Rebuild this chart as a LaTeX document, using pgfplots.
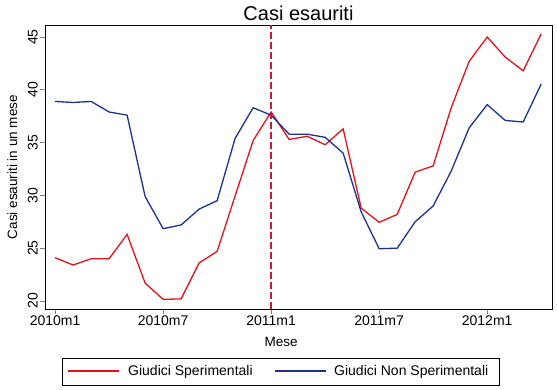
\documentclass[border=0pt]{standalone}
\usepackage{pgfplots}
\pgfplotsset{compat=1.18}
\usepackage{fontspec}
\setmainfont{Liberation Sans}
\definecolor{sred}{RGB}{225,20,30}
\definecolor{sblue}{RGB}{30,50,140}
\definecolor{cvline}{RGB}{195,30,55}
\begin{document}
\begin{tikzpicture}
\useasboundingbox (-45bp,-81bp) rectangle (512bp,309bp);
\begin{axis}[
  at={(0,0)}, anchor=south west,
  scale only axis, width=507bp, height=284bp,
  xmin=-0.56, xmax=27.6, ymin=19.24, ymax=46.14,
  xtick={0,6,12,18,24},
  xticklabels={2010m1,2010m7,2011m1,2011m7,2012m1},
  ytick={20,25,30,35,40,45},
  tick pos=left, tick align=outside,
  major tick length=5bp,
  tick style={line width=0.7bp},
  axis line style={line width=0.8bp},
  /pgf/number format/assume math mode=true,
  ticklabel style={font=\fontsize{14bp}{16bp}\selectfont},
  yticklabel style={rotate=90, anchor=south, inner sep=2bp},
  xticklabel style={inner sep=2bp},
  xlabel={Mese},
  ylabel={Casi esauriti in un mese},
  label style={font=\fontsize{13.5bp}{15bp}\selectfont},
  xlabel style={at={(axis description cs:0.4655,0)}, anchor=north, yshift=-25bp},
  ylabel style={yshift=5bp},
  title={Casi esauriti},
  title style={font=\fontsize{20bp}{22bp}\selectfont, yshift=-5bp},
  clip=false,
]
\addplot[color=sred, line width=1.3bp] table {
x y
0 24.1
1 23.4
2 24.0
3 24.0
4 26.3
5 21.7
6 20.15
7 20.2
8 23.6
9 24.7
10 29.95
11 35.2
12 37.9
13 35.3
14 35.6
15 34.8
16 36.3
17 28.8
18 27.45
19 28.2
20 32.2
21 32.8
22 38.3
23 42.7
24 45.0
25 43.1
26 41.8
27 45.3
};
\addplot[color=sblue, line width=1.3bp] table {
x y
0 38.9
1 38.8
2 38.9
3 37.9
4 37.6
5 29.9
6 26.85
7 27.2
8 28.7
9 29.5
10 35.4
11 38.3
12 37.6
13 35.8
14 35.8
15 35.5
16 34.0
17 28.45
18 24.95
19 25.0
20 27.5
21 29.0
22 32.3
23 36.4
24 38.6
25 37.1
26 36.95
27 40.55
};
\addplot[color=cvline, line width=1.9bp, dash pattern=on 6.5bp off 3.5bp, forget plot] table {
x y
12 19.24
12 46.14
};
\end{axis}
% legend
\draw[black, line width=0.7bp] (17bp,-76bp) rectangle (454bp,-49bp);
\draw[sred, line width=2.2bp] (23bp,-62bp) -- (74bp,-62bp);
\node[anchor=west, inner sep=0pt, font=\fontsize{14bp}{16bp}\selectfont] at (83bp,-62.5bp) {Giudici Sperimentali};
\draw[sblue, line width=2.2bp] (230bp,-62bp) -- (281bp,-62bp);
\node[anchor=west, inner sep=0pt, font=\fontsize{14bp}{16bp}\selectfont] at (289bp,-62.5bp) {Giudici Non Sperimentali};
\end{tikzpicture}
\end{document}
